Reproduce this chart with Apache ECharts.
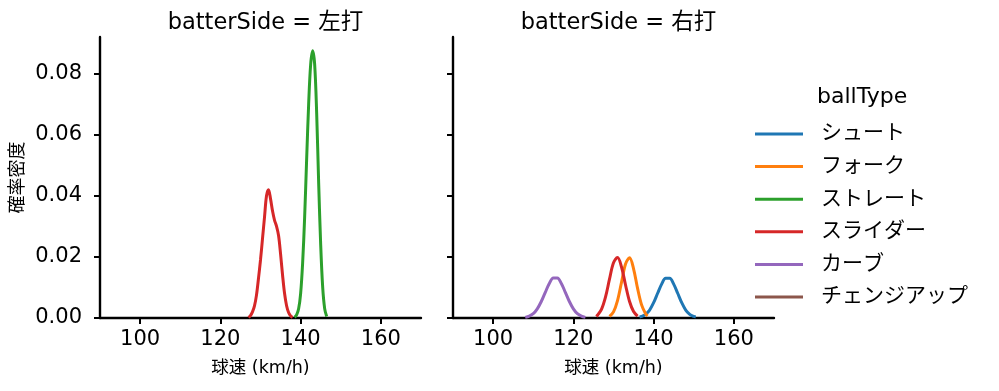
<!DOCTYPE html>
<html><head><meta charset="utf-8">
<script src="https://cdn.jsdelivr.net/npm/echarts@6/dist/echarts.min.js"></script>
<style>html,body{margin:0;padding:0;background:#fff}#c{width:999px;height:391px}</style>
</head><body><div id="c"></div>
<script>
const panelTitles = ['batterSide = 左打', 'batterSide = 右打'];
const ballTypes = ['シュート', 'フォーク', 'ストレート', 'スライダー', 'カーブ', 'チェンジアップ'];
const colors = ['#1f77b4', '#ff7f0e', '#2ca02c', '#d62728', '#9467bd', '#8c564b'];
const xTicks = [100, 120, 140, 160];
const yTicks = [0, 0.02, 0.04, 0.06, 0.08];

// Left panel (左打)
const leftStraightX = [138.5, 139, 139.5, 140, 140.5, 141, 141.5, 142, 142.5, 143, 143.5, 144, 144.5, 145, 145.5, 146, 146.5];
const leftStraightY = [0.0002, 0.001, 0.003, 0.008, 0.018, 0.033, 0.052, 0.070, 0.083, 0.0875, 0.083, 0.067, 0.044, 0.024, 0.010, 0.003, 0.0005];
const leftSliderX = [127, 127.5, 128, 128.5, 129, 129.5, 130, 130.5, 131, 131.5, 132, 132.5, 133, 133.5, 134, 134.5, 135, 135.5, 136, 136.5, 137, 137.5, 138];
const leftSliderY = [0.0002, 0.0008, 0.002, 0.004, 0.0075, 0.013, 0.019, 0.026, 0.033, 0.040, 0.042, 0.039, 0.035, 0.032, 0.030, 0.027, 0.021, 0.014, 0.008, 0.004, 0.0018, 0.0007, 0.0002];

// Right panel (右打)
const rightShootX = [136.5, 137, 138, 139, 140, 141, 142, 143, 144, 145, 146, 147, 148, 149, 150, 150.5];
const rightShootY = [0.0003, 0.0005, 0.0012, 0.0026, 0.0050, 0.0081, 0.0111, 0.0130, 0.0130, 0.0111, 0.0081, 0.0050, 0.0026, 0.0012, 0.0005, 0.0003];
const rightForkX = [129, 130, 131, 132, 133, 134, 135, 136, 137, 138, 138.5];
const rightForkY = [0.0005, 0.0020, 0.0057, 0.0117, 0.0177, 0.0197, 0.0161, 0.0097, 0.0043, 0.0014, 0.0007];
const rightSliderX = [125.7, 126, 127, 128, 129, 130, 131, 132, 133, 134, 135, 136];
const rightSliderY = [0.0005, 0.0009, 0.0028, 0.0068, 0.0127, 0.0181, 0.0198, 0.0167, 0.0108, 0.0054, 0.0021, 0.0006];
const rightCurveX = [108, 109, 110, 111, 112, 113, 114, 115, 116, 117, 118, 119, 120, 121, 122, 123];
const rightCurveY = [0.0002, 0.0006, 0.0014, 0.0030, 0.0054, 0.0084, 0.0113, 0.0131, 0.0131, 0.0113, 0.0084, 0.0054, 0.0030, 0.0014, 0.0006, 0.0002];

const zip = (xs, ys) => xs.map((x, i) => [x, ys[i]]);
const FONT = '"DejaVu Sans", "Noto Sans CJK JP", sans-serif';

const panels = [
  { 'ストレート': zip(leftStraightX, leftStraightY), 'スライダー': zip(leftSliderX, leftSliderY) },
  { 'シュート': zip(rightShootX, rightShootY), 'フォーク': zip(rightForkX, rightForkY),
    'スライダー': zip(rightSliderX, rightSliderY), 'カーブ': zip(rightCurveX, rightCurveY) }
];

const grids = [
  { left: 100, top: 37, width: 321, height: 281 },
  { left: 453, top: 37, width: 321, height: 281 }
];

const tickStyle = { show: true, inside: false, length: 6, lineStyle: { color: '#000', width: 2 } };
const lineStyle = { show: true, lineStyle: { color: '#000', width: 2.4 } };

const xAxes = grids.map((g, i) => ({
  type: 'value', gridIndex: i, min: 90, max: 170, interval: 20,
  axisLine: lineStyle,
  axisTick: Object.assign({ customValues: xTicks }, tickStyle),
  splitLine: { show: false },
  axisLabel: { show: true, fontSize: 21, color: '#000', fontFamily: FONT, margin: 11,
    customValues: xTicks, formatter: v => String(v) },
  name: '球速 (km/h)', nameLocation: 'middle', nameGap: 42,
  nameTextStyle: { fontSize: 17.5, color: '#000', fontFamily: FONT }
}));

const yAxes = grids.map((g, i) => ({
  type: 'value', gridIndex: i, min: 0, max: 0.092, interval: 0.02,
  axisLine: lineStyle,
  axisTick: Object.assign({ customValues: yTicks }, tickStyle),
  splitLine: { show: false },
  axisLabel: { show: i === 0, fontSize: 21, color: '#000', fontFamily: FONT, margin: 18,
    customValues: yTicks, formatter: v => v.toFixed(2) },
  name: i === 0 ? '確率密度' : '', nameLocation: 'middle', nameGap: 73, nameRotate: 90,
  nameTextStyle: { fontSize: 18, color: '#000', fontFamily: FONT }
}));

const series = [];
panels.forEach((p, gi) => {
  ballTypes.forEach((bt, k) => {
    if (p[bt]) {
      series.push({ type: 'line', name: bt, xAxisIndex: gi, yAxisIndex: gi, data: p[bt],
        smooth: 0.35, showSymbol: false, symbol: 'none', lineStyle: { width: 3, color: colors[k] },
        itemStyle: { color: colors[k] }, z: 2 + k, animation: false });
    }
  });
});
// empty series so the legend lists チェンジアップ
series.push({ type: 'line', name: 'チェンジアップ', xAxisIndex: 1, yAxisIndex: 1, data: [],
  lineStyle: { width: 3, color: colors[5] }, itemStyle: { color: colors[5] }, showSymbol: false });

const option = {
  animation: false,
  backgroundColor: '#fff',
  title: grids.map((g, i) => ({
    text: panelTitles[i], left: g.left + g.width / 2, top: 7, textAlign: 'center',
    textStyle: { fontSize: 22.5, fontWeight: 'normal', color: '#000', fontFamily: FONT }
  })),
  grid: grids,
  xAxis: xAxes,
  yAxis: yAxes,
  legend: {
    data: ballTypes, orient: 'vertical', left: 750, top: 118,
    icon: 'rect', itemWidth: 48, itemHeight: 3, itemGap: 10.6,
    textStyle: { fontSize: 21, color: '#000', fontFamily: FONT, lineHeight: 22, padding: [0, 0, 0, 13] },
    selectedMode: false
  },
  graphic: [{
    type: 'text', left: 817, top: 86,
    style: { text: 'ballType', fontSize: 22, fill: '#000', fontFamily: FONT }
  }],
  series: series
};

const chart = echarts.init(document.getElementById('c'), null, { renderer: 'canvas' });
chart.setOption(option);
</script></body></html>
